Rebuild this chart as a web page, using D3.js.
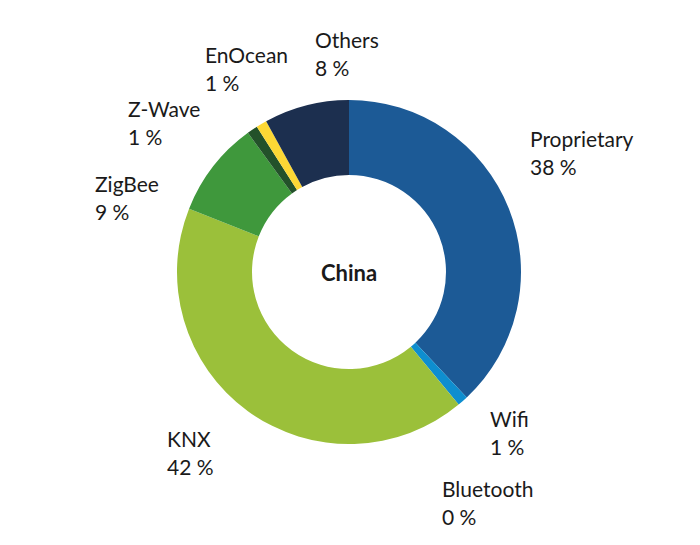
<!DOCTYPE html>
<html>
<head>
<meta charset="utf-8">
<script src="https://cdn.jsdelivr.net/npm/d3@7"></script>
<style>
  body { margin: 0; background: #fff; }
  svg { display: block; }
  text { font-family: Lato, "Open Sans", sans-serif; fill: #1a1a1a; }
</style>
</head>
<body>
<div id="chart"></div>
<script>
// Share of smart-home protocols, China (percent)
const protocols = ["Proprietary", "Wifi", "Bluetooth", "KNX", "ZigBee", "Z-Wave", "EnOcean", "Others"];
const shares = [38, 1, 0, 42, 9, 1, 1, 8];
const sliceColors = ["#1c5a96", "#0e8ecf", "#0e8ecf", "#9bc03a", "#3f983c", "#23512a", "#fdd835", "#1c2f4f"];
const centerTitle = "China";

// hand placed label anchors (left edge, first baseline)
const labelAnchors = {
    "Proprietary": [530, 147],
    "Wifi": [490, 427],
    "Bluetooth": [442, 497],
    "KNX": [167, 447],
    "ZigBee": [95, 192],
    "Z-Wave": [128, 117],
    "EnOcean": [205, 63],
    "Others": [315, 48]
};

const width = 700, height = 545;
const cx = 349, cy = 272;
const outerR = 172, innerR = 97;

const svg = d3.select("#chart").append("svg")
    .attr("width", width)
    .attr("height", height);

const data = protocols.map((p, i) => ({ name: p, value: shares[i], color: sliceColors[i] }));

const pie = d3.pie()
    .value(d => d.value)
    .sort(null);

const arc = d3.arc()
    .innerRadius(innerR)
    .outerRadius(outerR);

const g = svg.append("g")
    .attr("transform", `translate(${cx},${cy})`);

g.selectAll("path")
    .data(pie(data))
    .enter().append("path")
    .attr("d", arc)
    .attr("fill", d => d.data.color);

// center title
g.append("text")
    .attr("x", 0)
    .attr("y", 9)
    .attr("text-anchor", "middle")
    .style("font-size", "22px")
    .style("font-weight", "bold")
    .text(centerTitle);

// labels
const labels = svg.append("g")
    .selectAll("text")
    .data(data)
    .enter().append("text")
    .attr("x", d => labelAnchors[d.name][0])
    .attr("y", d => labelAnchors[d.name][1])
    .style("font-size", "21px");

labels.append("tspan")
    .text(d => d.name);

labels.append("tspan")
    .attr("x", d => labelAnchors[d.name][0])
    .attr("dy", 28)
    .text(d => d.value + " %");
</script>
</body>
</html>
